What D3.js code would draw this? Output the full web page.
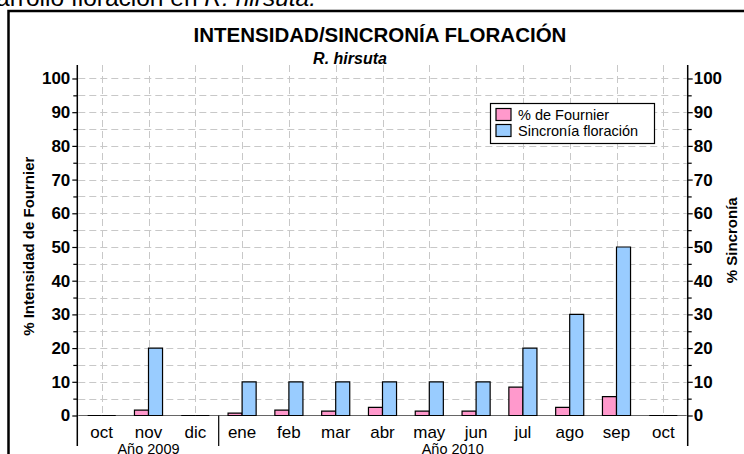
<!DOCTYPE html>
<html>
<head>
<meta charset="utf-8">
<script src="https://cdn.jsdelivr.net/npm/d3@7"></script>
<style>
  body { margin: 0; background: #fff; }
  svg { display: block; font-family: Arial, "Liberation Sans", sans-serif; }
</style>
</head>
<body>
<div id="vis"></div>
<script>
const WIDTH = 744;
const HEIGHT = 454;

// datos
const meses = ["oct", "nov", "dic", "ene", "feb", "mar", "abr", "may", "jun", "jul", "ago", "sep", "oct"];
const fournier = [0, 1.6, 0, 0.7, 1.6, 1.3, 2.4, 1.3, 1.3, 8.4, 2.4, 5.6, 0];
const sincronia = [0, 20, 0, 10, 10, 10, 10, 10, 10, 20, 30, 50, 0];
const anios = [
  { label: "Año 2009", desde: 0, hasta: 2 },
  { label: "Año 2010", desde: 3, hasta: 12 }
];
const ticksY = d3.range(0, 101, 10);
const ticksMenores = d3.range(5, 101, 10);
const lineasGrid = d3.range(5, 101, 5);

const SVG = d3.select("#vis").append("svg")
  .attr("width", WIDTH)
  .attr("height", HEIGHT);

const PLOT = { LEFT: 78.3, RIGHT: 686.7, TOP: 65, BOTTOM: 415.5, AXIS_END: 446 };

const escalaX = d3.scaleBand()
  .domain(d3.range(meses.length))
  .range([PLOT.LEFT, PLOT.RIGHT]);

const escalaY = d3.scaleLinear()
  .domain([0, 104])
  .range([PLOT.BOTTOM, PLOT.TOP]);

// texto cortado arriba
const arriba = SVG.append("text")
  .attr("x", -4)
  .attr("y", 6)
  .attr("font-size", 24.5)
  .attr("fill", "#000");
arriba.append("tspan").text("arrollo floración en ");
arriba.append("tspan").attr("font-style", "italic").text("R. hirsuta.");

// marco
SVG.append("rect")
  .attr("x", 8.5)
  .attr("y", 11)
  .attr("width", 800)
  .attr("height", 500)
  .attr("fill", "none")
  .attr("stroke", "#000")
  .attr("stroke-width", 2.5);

SVG.append("text")
  .attr("x", 380)
  .attr("y", 41.5)
  .attr("text-anchor", "middle")
  .attr("font-size", 20.5)
  .attr("font-weight", "bold")
  .text("INTENSIDAD/SINCRONÍA FLORACIÓN");

SVG.append("text")
  .attr("x", 350)
  .attr("y", 64)
  .attr("text-anchor", "middle")
  .attr("font-size", 16)
  .attr("font-weight", "bold")
  .attr("font-style", "italic")
  .text("R. hirsuta");

// grilla
const grilla = SVG.append("g");

grilla.selectAll(".gh")
  .data(lineasGrid)
  .join("line")
  .attr("x1", PLOT.LEFT)
  .attr("x2", PLOT.RIGHT)
  .attr("y1", d => Math.round(escalaY(d)) + 0.5)
  .attr("y2", d => Math.round(escalaY(d)) + 0.5)
  .attr("stroke", "#c8c8c8")
  .attr("stroke-dasharray", "7,4");

grilla.selectAll(".gv")
  .data(d3.range(meses.length))
  .join("line")
  .attr("x1", d => Math.round(escalaX(d) + escalaX.bandwidth() / 2) + 0.5)
  .attr("x2", d => Math.round(escalaX(d) + escalaX.bandwidth() / 2) + 0.5)
  .attr("y1", PLOT.TOP)
  .attr("y2", PLOT.BOTTOM)
  .attr("stroke", "#c8c8c8")
  .attr("stroke-dasharray", "7,4");

// linea base
SVG.append("line")
  .attr("x1", PLOT.LEFT)
  .attr("x2", PLOT.RIGHT)
  .attr("y1", PLOT.BOTTOM)
  .attr("y2", PLOT.BOTTOM)
  .attr("stroke", "#666");

// barras
const anchoBarra = escalaX.bandwidth() * 0.3;

function caminoBarra(x0, valor) {
  const y0 = escalaY(0);
  const y1 = escalaY(valor);
  return `M${x0},${y0}V${y1}H${x0 + anchoBarra}V${y0}Z`;
}

const contenedorBarras = SVG.append("g");

contenedorBarras.selectAll(".fournier")
  .data(fournier)
  .join("path")
  .attr("class", "fournier")
  .attr("d", (d, i) => caminoBarra(escalaX(i) + escalaX.bandwidth() / 2 - anchoBarra, d))
  .attr("fill", "#ff99cc")
  .attr("stroke", "#000")
  .attr("stroke-width", 1.2);

contenedorBarras.selectAll(".sincronia")
  .data(sincronia)
  .join("path")
  .attr("class", "sincronia")
  .attr("d", (d, i) => caminoBarra(escalaX(i) + escalaX.bandwidth() / 2, d))
  .attr("fill", "#99ccff")
  .attr("stroke", "#000")
  .attr("stroke-width", 1.2);

// ejes Y
const ejeIzq = d3.axisLeft(escalaY).tickValues(ticksY).tickSize(5).tickPadding(2);
const ejeIzqMenor = d3.axisLeft(escalaY).tickValues(ticksMenores).tickSize(4).tickFormat("");
const ejeDer = d3.axisRight(escalaY).tickValues(ticksY).tickSize(5).tickPadding(1);
const ejeDerMenor = d3.axisRight(escalaY).tickValues(ticksMenores).tickSize(4).tickFormat("");

function estiloEje(g) {
  g.select(".domain").remove();
  g.selectAll(".tick line").attr("stroke", "#000").attr("stroke-width", 1.2);
  g.selectAll(".tick text")
    .attr("font-size", 17)
    .attr("font-weight", "bold")
    .attr("font-family", "Arial, 'Liberation Sans', sans-serif")
    .attr("fill", "#000");
}

SVG.append("g").attr("transform", `translate(${PLOT.LEFT - 1}, 0)`).call(ejeIzq).call(estiloEje);
SVG.append("g").attr("transform", `translate(${PLOT.LEFT - 1}, 0)`).call(ejeIzqMenor).call(estiloEje);
SVG.append("g").attr("transform", `translate(${PLOT.RIGHT + 1}, 0)`).call(ejeDer).call(estiloEje);
SVG.append("g").attr("transform", `translate(${PLOT.RIGHT + 1}, 0)`).call(ejeDerMenor).call(estiloEje);

[PLOT.LEFT - 1, PLOT.RIGHT + 1].forEach(x => {
  SVG.append("line")
    .attr("x1", x).attr("x2", x)
    .attr("y1", PLOT.TOP)
    .attr("y2", PLOT.AXIS_END)
    .attr("stroke", "#000")
    .attr("stroke-width", 1.5);
});

// separador de anios
SVG.append("line")
  .attr("x1", escalaX(3))
  .attr("x2", escalaX(3))
  .attr("y1", PLOT.BOTTOM)
  .attr("y2", PLOT.AXIS_END)
  .attr("stroke", "#000")
  .attr("stroke-width", 1.2);

// etiquetas de meses
SVG.selectAll(".mes")
  .data(meses)
  .join("text")
  .attr("class", "mes")
  .attr("x", (d, i) => escalaX(i) + escalaX.bandwidth() / 2)
  .attr("y", 438)
  .attr("text-anchor", "middle")
  .attr("font-size", 17)
  .text(d => d);

SVG.selectAll(".anio")
  .data(anios)
  .join("text")
  .attr("class", "anio")
  .attr("x", d => (escalaX(d.desde) + escalaX(d.hasta) + escalaX.bandwidth()) / 2)
  .attr("y", 454)
  .attr("text-anchor", "middle")
  .attr("font-size", 14.5)
  .text(d => d.label);

// titulos de ejes
SVG.append("text")
  .attr("transform", `translate(34, ${(PLOT.TOP + PLOT.BOTTOM) / 2 + 6}) rotate(-90)`)
  .attr("text-anchor", "middle")
  .attr("font-size", 15)
  .attr("font-weight", "bold")
  .text("% Intensidad de Fournier");

SVG.append("text")
  .attr("transform", `translate(737, ${(PLOT.TOP + PLOT.BOTTOM) / 2}) rotate(-90)`)
  .attr("text-anchor", "middle")
  .attr("font-size", 15)
  .attr("font-weight", "bold")
  .text("% Sincronía");

// leyenda
const leyenda = SVG.append("g").attr("transform", "translate(490, 103)");

leyenda.append("rect")
  .attr("x", 0.5).attr("y", 0.5)
  .attr("width", 164).attr("height", 40)
  .attr("fill", "#fff")
  .attr("stroke", "#000")
  .attr("stroke-width", 1.2);

const itemsLeyenda = [
  { label: "% de Fournier", color: "#ff99cc" },
  { label: "Sincronía floración", color: "#99ccff" }
];

const item = leyenda.selectAll(".item")
  .data(itemsLeyenda)
  .join("g")
  .attr("transform", (d, i) => `translate(6, ${5.5 + i * 16})`);

item.append("rect")
  .attr("width", 15).attr("height", 12)
  .attr("fill", d => d.color)
  .attr("stroke", "#000")
  .attr("stroke-width", 1.2);

item.append("text")
  .attr("x", 22)
  .attr("y", 11)
  .attr("font-size", 14.5)
  .text(d => d.label);
</script>
</body>
</html>
